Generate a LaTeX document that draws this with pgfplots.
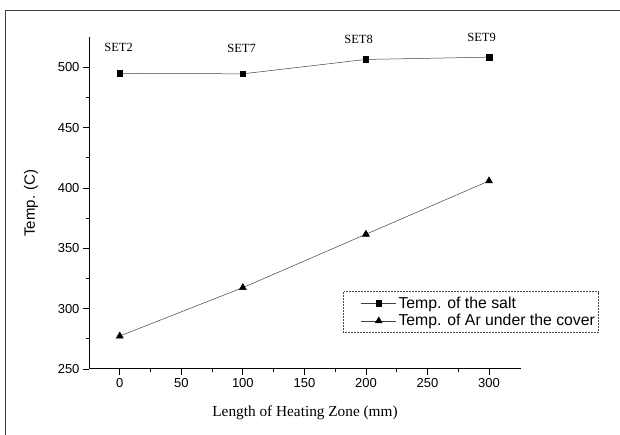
\documentclass[border=0pt]{standalone}
\usepackage{pgfplots}
\pgfplotsset{compat=1.18}
\usepackage{fontspec}
\setmainfont{Liberation Serif}
\setsansfont{Liberation Sans}

\begin{document}
\begin{tikzpicture}
\useasboundingbox (0pt,0pt) rectangle (620pt,435pt);
% scanned page frame
\draw[line width=0.8pt, black!75] (5pt,0pt) -- (5pt,425pt) -- (620pt,425pt);
\begin{axis}[
    at={(89pt,66pt)}, anchor=south west,
    width=432pt, height=332pt, scale only axis,
    xmin=-25, xmax=326,
    ymin=250, ymax=525,
    xtick={0,50,...,300},
    ytick={250,300,...,500},
    minor x tick num=1,
    minor y tick num=1,
    axis x line*=bottom,
    axis y line*=left,
    axis line style={line width=1pt},
    tick align=outside,
    major tick length=6pt,
    minor tick length=3.5pt,
    every tick/.style={line width=0.8pt, black},
    tick label style={font=\sffamily\fontsize{13}{13}\selectfont},
    /pgf/number format/assume math mode=true,
    xlabel={Length of Heating Zone (mm)},
    xlabel style={font=\fontsize{15.3}{15.3}\selectfont, yshift=-11pt},
    ylabel={Temp. (C)},
    ylabel style={font=\sffamily\fontsize{15}{15}\selectfont, yshift=13pt},
    clip=false,
    legend cell align=left,
    legend style={
        at={(0.588,0.234)}, anchor=north west,
        font=\sffamily\fontsize{15.8}{20}\selectfont,
        draw=black!70, densely dotted, line width=0.5pt,
        inner xsep=1pt, inner ysep=3pt,
        row sep=1pt,
    },
    legend image code/.code={
        \path[draw=none] (0pt,0pt) -- (17pt,0pt);
        \draw[mark repeat=2, mark phase=2, #1]
            plot coordinates {(17pt,0pt) (34.5pt,0pt) (52pt,0pt)};
    },
]
\addplot[solid, black!75, line width=0.5pt,
    mark=square*, mark size=2.8pt,
    mark options={solid, fill=black, draw=black}]
    coordinates {(0,494.8) (100,494.5) (200,506.4) (300,508.3)};
\addlegendentry{Temp. of the salt}

\addplot[solid, black!75, line width=0.5pt,
    mark=triangle*, mark size=4pt,
    mark options={solid, fill=black, draw=black}]
    coordinates {(0,277.3) (100,317.4) (200,361.6) (300,405.8)};
\addlegendentry{Temp. of Ar under the cover}

\node[font=\fontsize{12.5}{12.5}\selectfont] at (axis cs:-1,516) {SET2};
\node[font=\fontsize{12.5}{12.5}\selectfont] at (axis cs:99,515.5) {SET7};
\node[font=\fontsize{12.5}{12.5}\selectfont] at (axis cs:194,522.6) {SET8};
\node[font=\fontsize{12.5}{12.5}\selectfont] at (axis cs:294,525) {SET9};
\end{axis}
\end{tikzpicture}
\end{document}
